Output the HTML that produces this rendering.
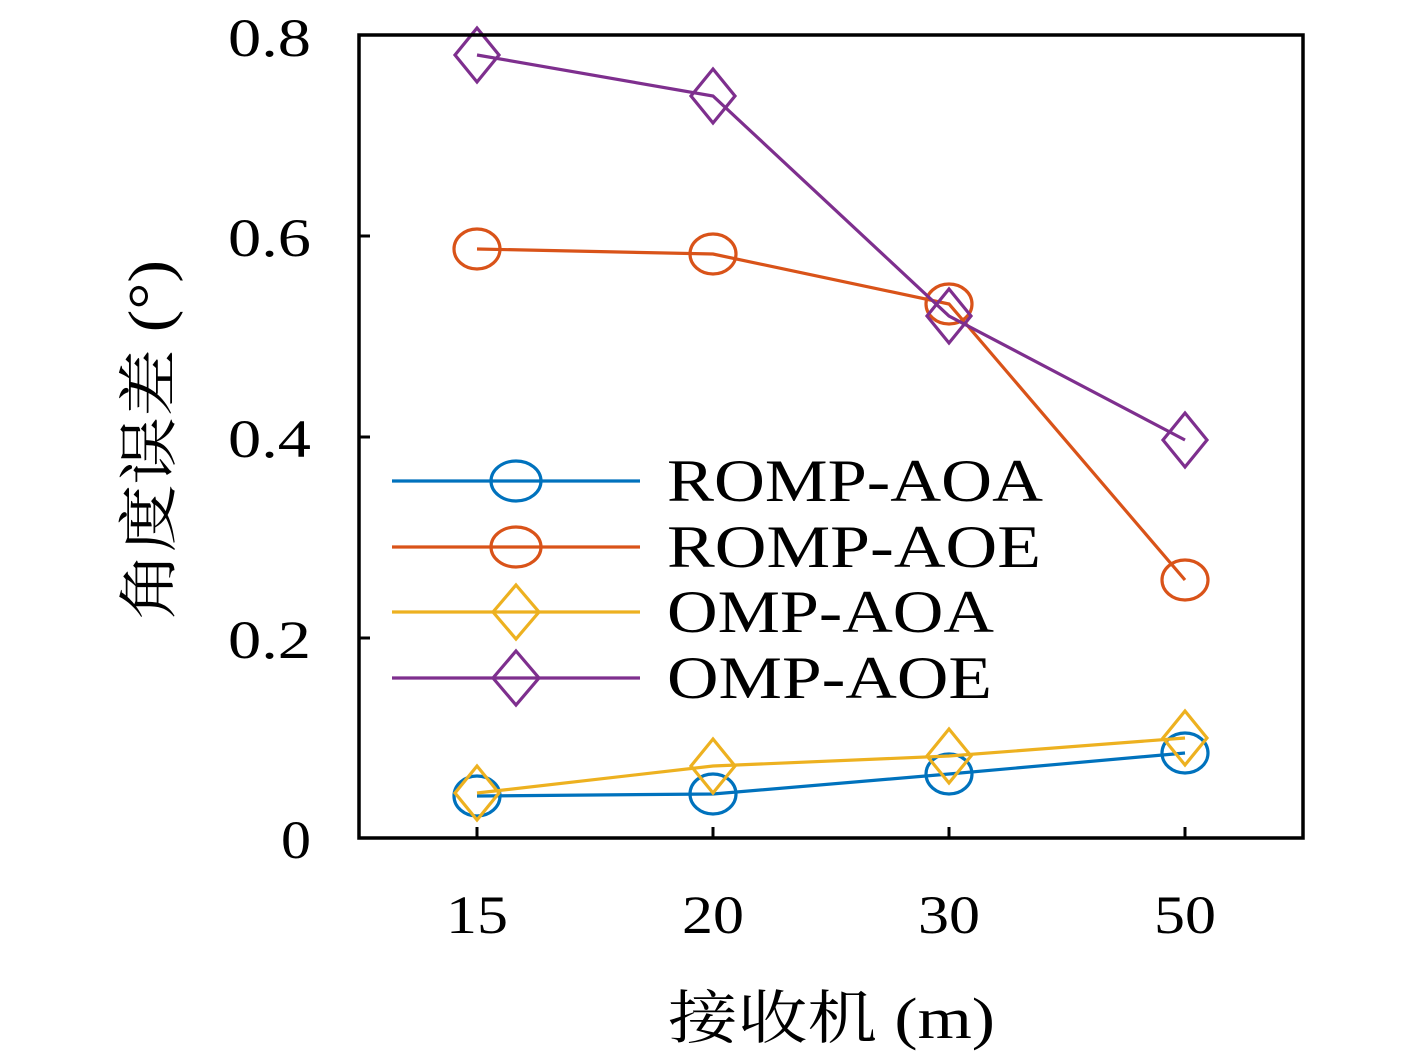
<!DOCTYPE html>
<html><head><meta charset="utf-8"><style>
html,body{margin:0;padding:0;background:#fff;}
svg{display:block;}
text{font-family:"Liberation Serif","Noto Serif CJK SC",serif;fill:#000;}
</style></head><body>
<svg width="1417" height="1058" viewBox="0 0 1417 1058" xmlns="http://www.w3.org/2000/svg">
<rect width="1417" height="1058" fill="#fff"/>
<g stroke="#000" stroke-width="3">
<line x1="359" y1="236" x2="370" y2="236"/>
<line x1="359" y1="437" x2="370" y2="437"/>
<line x1="359" y1="638" x2="370" y2="638"/>
<line x1="477" y1="838" x2="477" y2="827"/>
<line x1="713" y1="838" x2="713" y2="827"/>
<line x1="949" y1="838" x2="949" y2="827"/>
<line x1="1185" y1="838" x2="1185" y2="827"/>
</g>
<g font-size="54">
<text x="228" y="56" textLength="83" lengthAdjust="spacingAndGlyphs">0.8</text>
<text x="228" y="256" textLength="83" lengthAdjust="spacingAndGlyphs">0.6</text>
<text x="228" y="457" textLength="83" lengthAdjust="spacingAndGlyphs">0.4</text>
<text x="228" y="658" textLength="83" lengthAdjust="spacingAndGlyphs">0.2</text>
<text x="281" y="858" textLength="30" lengthAdjust="spacingAndGlyphs">0</text>
</g>
<g font-size="54">
<text x="446" y="933" textLength="62" lengthAdjust="spacingAndGlyphs">15</text>
<text x="682" y="933" textLength="62" lengthAdjust="spacingAndGlyphs">20</text>
<text x="918" y="933" textLength="62" lengthAdjust="spacingAndGlyphs">30</text>
<text x="1154" y="933" textLength="62" lengthAdjust="spacingAndGlyphs">50</text>
</g>
<text x="668" y="1038" font-size="58" textLength="327" lengthAdjust="spacingAndGlyphs">接收机 (m)</text>
<text transform="translate(170,620) rotate(-90)" font-size="60" textLength="360" lengthAdjust="spacingAndGlyphs">角度误差 (°)</text>
<g fill="none" stroke-width="3.2">
<g stroke="#0072BD">
<polyline points="477,796 713,794 949,774 1185,753"/>
<ellipse cx="477" cy="796" rx="23" ry="20"/><ellipse cx="713" cy="794" rx="23" ry="20"/>
<ellipse cx="949" cy="774" rx="23" ry="20"/><ellipse cx="1185" cy="753" rx="23" ry="20"/>
</g>
<g stroke="#D95319">
<polyline points="477,249 713,254 949,304 1185,580"/>
<ellipse cx="477" cy="249" rx="23" ry="20"/><ellipse cx="713" cy="254" rx="23" ry="20"/>
<ellipse cx="949" cy="304" rx="23" ry="20"/><ellipse cx="1185" cy="580" rx="23" ry="20"/>
</g>
<g stroke="#EDB120">
<polyline points="477,793 713,766 949,756 1185,738"/>
<path d="M477,766 l22,27 l-22,27 l-22,-27z M713,739 l22,27 l-22,27 l-22,-27z M949,729 l22,27 l-22,27 l-22,-27z M1185,711 l22,27 l-22,27 l-22,-27z"/>
</g>
<g stroke="#7E2F8E">
<polyline points="477,55 713,96 949,316 1185,440"/>
<path d="M477,28 l22,27 l-22,27 l-22,-27z M713,69 l22,27 l-22,27 l-22,-27z M949,289 l22,27 l-22,27 l-22,-27z M1185,413 l22,27 l-22,27 l-22,-27z"/>
</g>
<line x1="392" y1="481" x2="640" y2="481" stroke="#0072BD"/>
<ellipse cx="516" cy="481" rx="25" ry="20" stroke="#0072BD"/>
<line x1="392" y1="547" x2="640" y2="547" stroke="#D95319"/>
<ellipse cx="516" cy="547" rx="25" ry="20" stroke="#D95319"/>
<line x1="392" y1="612" x2="640" y2="612" stroke="#EDB120"/>
<path d="M516,585 l23,27 l-23,27 l-23,-27z" stroke="#EDB120"/>
<line x1="392" y1="678" x2="640" y2="678" stroke="#7E2F8E"/>
<path d="M516,651 l23,27 l-23,27 l-23,-27z" stroke="#7E2F8E"/>
</g>
<g font-size="60">
<text x="667" y="501" textLength="376" lengthAdjust="spacingAndGlyphs">ROMP-AOA</text>
<text x="667" y="567" textLength="374" lengthAdjust="spacingAndGlyphs">ROMP-AOE</text>
<text x="667" y="632" textLength="327" lengthAdjust="spacingAndGlyphs">OMP-AOA</text>
<text x="667" y="698" textLength="325" lengthAdjust="spacingAndGlyphs">OMP-AOE</text>
</g>
<rect x="359" y="35" width="944" height="803" fill="none" stroke="#000" stroke-width="3.5"/>
</svg>
</body></html>
